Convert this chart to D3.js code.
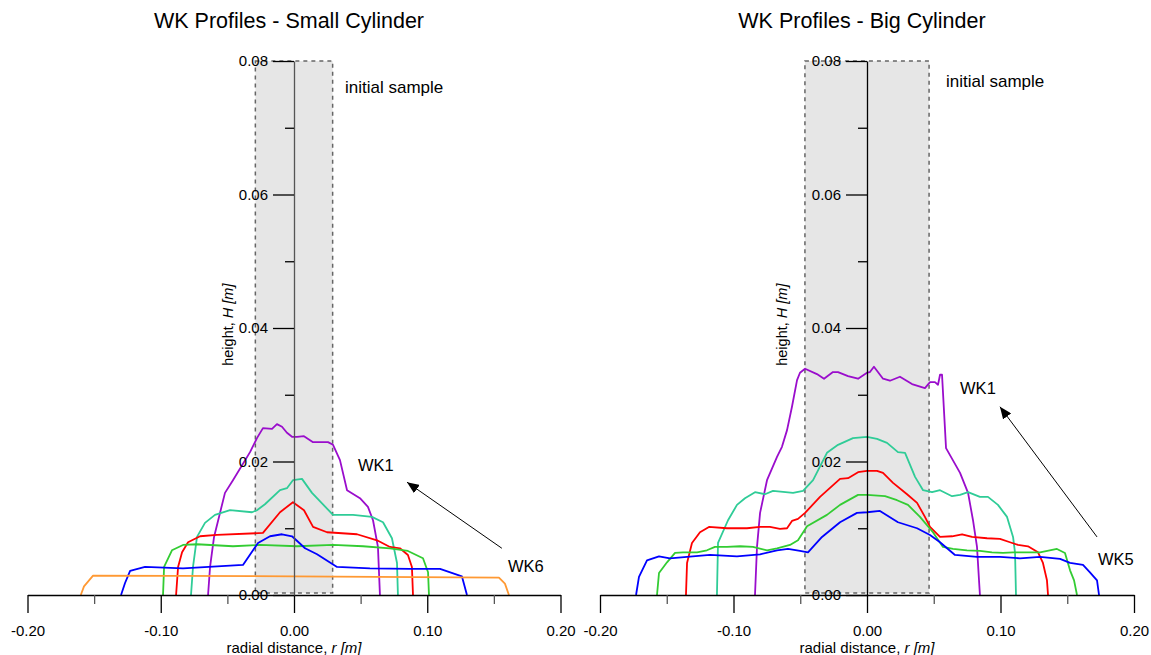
<!DOCTYPE html>
<html>
<head>
<meta charset="utf-8">
<script src="https://cdn.jsdelivr.net/npm/d3@7"></script>
<style>
    body { margin: 0; background: #fff; }
    svg text { font-family: "Liberation Sans", Arial, sans-serif; fill: #000; }
</style>
</head>
<body>
<svg width="1151" height="655"></svg>
<script>
// profile data, [r (m), H (m)]
let smallWK1 = [[-0.0645, 0], [-0.063, 0.0042], [-0.060, 0.0087], [-0.0518, 0.0153], [-0.0458, 0.0172], [-0.033, 0.0214],
    [-0.0278, 0.0235], [-0.0233, 0.025], [-0.0165, 0.0249], [-0.0128, 0.0256], [-0.009, 0.0252], [-0.0053, 0.0243],
    [-0.0015, 0.0237], [0.0023, 0.0237], [0.0075, 0.0238], [0.0143, 0.0229], [0.0255, 0.0229], [0.0293, 0.0225],
    [0.0345, 0.0202], [0.0398, 0.0157], [0.0495, 0.0145], [0.0555, 0.0132], [0.0593, 0.0112], [0.063, 0.0072], [0.0645, 0]];
let smallWK2 = [[-0.0773, 0], [-0.0758, 0.0042], [-0.0728, 0.0087], [-0.0668, 0.0108], [-0.0593, 0.012], [-0.048, 0.0127],
    [-0.0315, 0.0124], [-0.0278, 0.0127], [-0.0218, 0.0136], [-0.0105, 0.0157], [-0.0053, 0.016], [-0.0008, 0.0172],
    [0.006, 0.0174], [0.0135, 0.0153], [0.0293, 0.012], [0.0443, 0.012], [0.0585, 0.0117], [0.0668, 0.0109],
    [0.0735, 0.0085], [0.0773, 0.0048], [0.078, 0]];
let smallWK3 = [[-0.0885, 0], [-0.087, 0.0042], [-0.084, 0.0064], [-0.0795, 0.0079], [-0.0705, 0.0088], [-0.0578, 0.009],
    [-0.0233, 0.0093], [-0.0105, 0.0124], [-0.0008, 0.0139], [0.0075, 0.0127], [0.0143, 0.0102], [0.0248, 0.0094],
    [0.0473, 0.0091], [0.0623, 0.0082], [0.072, 0.0072], [0.0795, 0.007], [0.0855, 0.006], [0.0885, 0.0042], [0.0893, 0]];
let smallWK4 = [[-0.0983, 0], [-0.0975, 0.0042], [-0.0916, 0.0067], [-0.0833, 0.0075], [-0.0728, 0.0076], [-0.0458, 0.0073],
    [-0.0255, 0.0075], [0.0023, 0.0073], [0.0293, 0.0075], [0.0518, 0.0073], [0.072, 0.007], [0.0855, 0.0066],
    [0.0968, 0.0055], [0.1006, 0.0034], [0.1013, 0]];
let smallWK5 = [[-0.1298, 0], [-0.1268, 0.0018], [-0.123, 0.0036], [-0.1118, 0.0042], [-0.0833, 0.004], [-0.0383, 0.0045],
    [-0.027, 0.0078], [-0.018, 0.0088], [-0.009, 0.0091], [-0.0015, 0.0088], [0.0083, 0.007], [0.0173, 0.0061],
    [0.0323, 0.0042], [0.057, 0.004], [0.087, 0.0039], [0.1096, 0.0039], [0.126, 0.0028], [0.1298, 0]];
let smallWK6 = [[-0.16, 0], [-0.1576, 0.0013], [-0.1508, 0.0029], [0, 0.0028], [0.1538, 0.0026], [0.1583, 0.0017], [0.1613, 0]];

let bigWK1 = [[-0.0839, 0], [-0.0824, 0.0072], [-0.0801, 0.0123], [-0.0749, 0.0172], [-0.0674, 0.0207], [-0.0637, 0.0222],
    [-0.0599, 0.0247], [-0.0562, 0.0282], [-0.0524, 0.0322], [-0.0502, 0.0333], [-0.0464, 0.0339], [-0.0375, 0.0331],
    [-0.0322, 0.0324], [-0.0255, 0.0334], [-0.0217, 0.0334], [-0.0142, 0.0328], [-0.0067, 0.0324], [0, 0.0333],
    [0.0022, 0.0334], [0.0052, 0.0342], [0.012, 0.0324], [0.0172, 0.0321], [0.0247, 0.0327], [0.0337, 0.0316],
    [0.0434, 0.031], [0.0472, 0.0319], [0.0509, 0.0319], [0.0532, 0.0315], [0.0547, 0.033], [0.0562, 0.033],
    [0.0592, 0.022], [0.0697, 0.0183], [0.0757, 0.0153], [0.0794, 0.0112], [0.0824, 0.0072], [0.0839, 0.0022], [0.0846, 0]];
let bigWK2 = [[-0.1124, 0], [-0.1116, 0.0078], [-0.1041, 0.0112], [-0.0974, 0.0135], [-0.0914, 0.0145], [-0.0839, 0.0154],
    [-0.0764, 0.0151], [-0.0704, 0.0156], [-0.0554, 0.0153], [-0.0479, 0.0156], [-0.0404, 0.0172], [-0.03, 0.0213],
    [-0.0217, 0.0225], [-0.0105, 0.0235], [0, 0.0237], [0.0075, 0.0234], [0.015, 0.0228], [0.0232, 0.0214],
    [0.0285, 0.0213], [0.036, 0.0177], [0.042, 0.0157], [0.0487, 0.0154], [0.0547, 0.0157], [0.0637, 0.0148],
    [0.0697, 0.015], [0.0757, 0.0154], [0.0846, 0.0147], [0.0906, 0.0147], [0.0981, 0.0135], [0.1049, 0.0117],
    [0.1094, 0.0087], [0.1109, 0.0063], [0.1116, 0]];
let bigWK3 = [[-0.1356, 0], [-0.1348, 0.0048], [-0.1311, 0.0078], [-0.1251, 0.0094], [-0.1184, 0.0102], [-0.1049, 0.01],
    [-0.0899, 0.01], [-0.0801, 0.0102], [-0.0727, 0.0102], [-0.0652, 0.0099], [-0.0599, 0.01], [-0.0562, 0.0111],
    [-0.0517, 0.0114], [-0.0464, 0.0123], [-0.0352, 0.0147], [-0.0202, 0.0174], [-0.0142, 0.0175], [-0.0067, 0.0184],
    [0, 0.0186], [0.0075, 0.0186], [0.012, 0.0183], [0.0195, 0.0168], [0.03, 0.0151], [0.0375, 0.0138],
    [0.0434, 0.0117], [0.0472, 0.0102], [0.0547, 0.0087], [0.0637, 0.0088], [0.0712, 0.0091], [0.0787, 0.0087],
    [0.0899, 0.0085], [0.0996, 0.0084], [0.1071, 0.0079], [0.1131, 0.0075], [0.1206, 0.0073], [0.1281, 0.0064],
    [0.1318, 0.0048], [0.1348, 0.0022], [0.1356, 0]];
let bigWK4 = [[-0.1573, 0], [-0.1558, 0.0033], [-0.1498, 0.0049], [-0.1438, 0.0063], [-0.1378, 0.0064], [-0.1273, 0.0064],
    [-0.1199, 0.0067], [-0.1139, 0.0072], [-0.1049, 0.0072], [-0.0951, 0.0073], [-0.0854, 0.0072], [-0.0749, 0.0067],
    [-0.0674, 0.007], [-0.0577, 0.0075], [-0.0517, 0.0082], [-0.0449, 0.0103], [-0.03, 0.012], [-0.0202, 0.0135],
    [-0.0067, 0.015], [0, 0.015], [0.0135, 0.0148], [0.0225, 0.0142], [0.0307, 0.0135], [0.0397, 0.0117],
    [0.0494, 0.0094], [0.0569, 0.0072], [0.0644, 0.0069], [0.0749, 0.0067], [0.0846, 0.0066], [0.0936, 0.0064],
    [0.1019, 0.0063], [0.1094, 0.0064], [0.1199, 0.0064], [0.1296, 0.0064], [0.1423, 0.0069], [0.1483, 0.0063],
    [0.1521, 0.0037], [0.1551, 0.0022], [0.1573, 0]];
let bigWK5 = [[-0.173, 0], [-0.1708, 0.0027], [-0.1648, 0.0052], [-0.1558, 0.0058], [-0.1476, 0.0055], [-0.1348, 0.0057],
    [-0.1176, 0.006], [-0.0974, 0.0058], [-0.0801, 0.0061], [-0.0674, 0.0067], [-0.0592, 0.0069], [-0.0502, 0.0066],
    [-0.0442, 0.0064], [-0.0337, 0.0087], [-0.0202, 0.0109], [-0.0075, 0.0123], [0, 0.0124], [0.0097, 0.0126],
    [0.0232, 0.0109], [0.0375, 0.01], [0.0472, 0.009], [0.0547, 0.0079], [0.0659, 0.006], [0.0824, 0.0057],
    [0.0996, 0.0057], [0.1146, 0.0055], [0.1296, 0.0057], [0.1446, 0.0054], [0.1521, 0.0048], [0.1618, 0.0045],
    [0.167, 0.0034], [0.1723, 0.0022], [0.1738, 0]];

let seriesColors = ["#9a0dcc", "#2fcc97", "#ff0000", "#33cc33", "#0000ff", "#ff9933"];
let xTicks = [-0.2, -0.15, -0.1, -0.05, 0, 0.05, 0.1, 0.15, 0.2];
let yTicks = [0, 0.01, 0.02, 0.03, 0.04, 0.05, 0.06, 0.07, 0.08];

let panels = [
    {
        title: "WK Profiles - Small Cylinder",
        range: [27.5, 560.5],
        series: [smallWK1, smallWK2, smallWK3, smallWK4, smallWK5, smallWK6],
        sample: 0.029,
        sampleLabel: [0.0383, 0.0761],
        axisColor: "#555",
        yTitleOffset: 66,
        arrow: [[0.156, 0.007], [0.0848, 0.0169]],
        labels: [["WK1", 0.048, 0.0195], ["WK6", 0.1606, 0.0043]]
    },
    {
        title: "WK Profiles - Big Cylinder",
        range: [600, 1134],
        series: [bigWK1, bigWK2, bigWK3, bigWK4, bigWK5],
        sample: 0.0465,
        sampleLabel: [0.0592, 0.077],
        axisColor: "#000",
        yTitleOffset: 85,
        arrow: [[0.1723, 0.0087], [0.0996, 0.0282]],
        labels: [["WK1", 0.0697, 0.031], ["WK5", 0.173, 0.0054]]
    }
];

// plain hyphen for negative tick labels
let fmt = d3.formatLocale({decimal: ".", thousands: ",", grouping: [3], currency: ["", ""], minus: "-"}).format(".2f");

let svg = d3.select("svg");

svg.append("defs").append("marker")
    .attr("id", "head")
    .attr("viewBox", "0 0 12 10")
    .attr("refX", 12)
    .attr("refY", 5)
    .attr("markerWidth", 12)
    .attr("markerHeight", 10)
    .attr("markerUnits", "userSpaceOnUse")
    .attr("orient", "auto")
    .append("path")
    .attr("d", "M0,0L12,5L0,10Z")
    .attr("fill", "#000");

let y = d3.scaleLinear().domain([0, 0.08]).range([595, 61]);

panels.forEach(function (p) {
    let x = d3.scaleLinear().domain([-0.2, 0.2]).range(p.range);
    let g = svg.append("g");

    // initial sample box
    g.append("rect")
        .attr("x", x(-p.sample))
        .attr("y", y(0.08))
        .attr("width", x(p.sample) - x(-p.sample))
        .attr("height", y(0) - y(0.08) - 2)
        .attr("fill", "#e6e6e6")
        .attr("stroke", "#666")
        .attr("stroke-width", 1.5)
        .attr("stroke-dasharray", "4,4");

    g.append("text")
        .attr("x", x(p.sampleLabel[0]))
        .attr("y", y(p.sampleLabel[1]))
        .attr("dy", "0.35em")
        .style("font-size", "17px")
        .text("initial sample");

    // profiles
    let line = d3.line()
        .x(function (d) { return x(d[0]); })
        .y(function (d) { return y(d[1]); });

    g.selectAll("path.profile")
        .data(p.series)
        .enter().append("path")
        .attr("class", "profile")
        .attr("d", line)
        .attr("fill", "none")
        .attr("stroke", function (d, i) { return seriesColors[i]; })
        .attr("stroke-width", 1.8)
        .attr("stroke-linejoin", "round");

    // x axis
    let xAxis = g.append("g")
        .attr("transform", "translate(0," + y(0) + ")")
        .call(d3.axisBottom(x).tickValues(xTicks).tickSize(0).tickFormat(""));
    xAxis.select(".domain").attr("stroke", "#000").attr("stroke-width", 1.3);
    xAxis.selectAll(".tick line")
        .attr("y2", function (d, i) { return i % 2 === 0 ? 18 : 9; })
        .attr("stroke", function (d, i) { return i % 2 === 0 ? "#000" : "#555"; })
        .attr("stroke-width", 1.3);
    xAxis.selectAll(".tick text")
        .attr("y", 36)
        .attr("dy", "0.35em")
        .style("font-size", "15px")
        .text(function (d, i) { return i % 2 === 0 ? fmt(d) : ""; });

    g.append("text")
        .attr("x", x(0))
        .attr("y", 648)
        .attr("dy", "0.35em")
        .attr("text-anchor", "middle")
        .style("font-size", "15px")
        .html('radial distance, <tspan font-style="italic">r [m]</tspan>');

    // y axis at r = 0
    let yAxis = g.append("g")
        .attr("transform", "translate(" + x(0) + ",0)")
        .call(d3.axisLeft(y).tickValues(yTicks).tickSize(0).tickFormat(""));
    yAxis.select(".domain").attr("stroke", p.axisColor).attr("stroke-width", 1.3);
    yAxis.selectAll(".tick line")
        .attr("x2", function (d, i) { return i % 2 === 0 ? -21 : -9; })
        .attr("stroke", "#000")
        .attr("stroke-width", 1.3);
    yAxis.selectAll(".tick text")
        .attr("x", -26)
        .style("font-size", "15px")
        .text(function (d, i) { return i % 2 === 0 ? fmt(d) : ""; });

    g.append("text")
        .attr("transform", "translate(" + (x(0) - p.yTitleOffset) + "," + y(0.0405) + ") rotate(-90)")
        .attr("dy", "0.35em")
        .attr("text-anchor", "middle")
        .style("font-size", "14.5px")
        .html('height, <tspan font-style="italic">H [m]</tspan>');

    // annotation arrow and labels
    g.append("line")
        .attr("x1", x(p.arrow[0][0]))
        .attr("y1", y(p.arrow[0][1]))
        .attr("x2", x(p.arrow[1][0]))
        .attr("y2", y(p.arrow[1][1]))
        .attr("stroke", "#000")
        .attr("stroke-width", 1)
        .attr("marker-end", "url(#head)");

    g.selectAll("text.wk")
        .data(p.labels)
        .enter().append("text")
        .attr("class", "wk")
        .attr("x", function (d) { return x(d[1]); })
        .attr("y", function (d) { return y(d[2]); })
        .attr("dy", "0.35em")
        .style("font-size", "16.5px")
        .text(function (d) { return d[0]; });

    g.append("text")
        .attr("x", x(0) - 5)
        .attr("y", 20)
        .attr("dy", "0.35em")
        .attr("text-anchor", "middle")
        .style("font-size", "21.5px")
        .text(p.title);
});
</script>
</body>
</html>
